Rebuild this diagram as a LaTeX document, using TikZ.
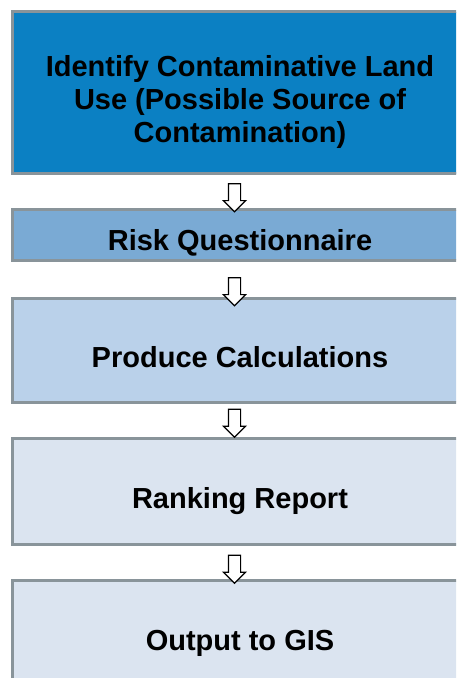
\documentclass[tikz,border=0pt]{standalone}
\usepackage{fontspec}
\setmainfont{Liberation Sans}
\usepackage{xcolor}
\usepackage{tikz}
\usetikzlibrary{shapes.arrows}
\definecolor{edgegray}{RGB}{137,148,154}
\definecolor{landblue}{RGB}{11,128,195}
\definecolor{riskblue}{RGB}{122,170,212}
\definecolor{calcblue}{RGB}{186,209,234}
\definecolor{paleblue}{RGB}{219,228,240}

\begin{document}
\begin{tikzpicture}[x=1pt,y=-1pt,
                    box/.style={draw=edgegray, line width=3pt, minimum width=455pt,
                                inner sep=0pt, outer sep=0pt, align=center,
                                text height=34pt, text depth=0pt,
                                font=\fontsize{29}{33}\selectfont\bfseries},
                    downarrow/.style={single arrow, draw=black, fill=white, line width=1.2pt,
                                      shape border rotate=270, minimum width=21pt,
                                      minimum height=28pt, single arrow head extend=5pt,
                                      inner sep=5.5pt, outer sep=0pt},
                   ]

\useasboundingbox (0,0) rectangle (456,678);
\clip (0,0) rectangle (456,678);

\node[box, fill=landblue, minimum height=162pt, text height=99pt, text depth=0pt] (identify) at (240,92.5)
  {Identify Contaminative Land\\Use (Possible Source of\\Contamination)};
\node[box, fill=riskblue, minimum height=50.6pt, text height=31pt] (risk) at (240,235) {Risk Questionnaire};
\node[box, fill=calcblue, minimum height=104.3pt] (calc) at (240,350.15) {Produce Calculations};
\node[box, fill=paleblue, minimum height=106pt] (rank) at (240,491.7) {Ranking Report};
\node[box, fill=paleblue, minimum height=106pt] (gis) at (240,633.7) {Output to GIS};

\node[downarrow, anchor=tip] (arrA) at ([xshift=-5.5pt,yshift=-2pt]risk.north) {};
\node[downarrow, anchor=tip] (arrB) at ([xshift=-5.5pt,yshift=-7.7pt]calc.north) {};
\node[downarrow, anchor=tip] (arrC) at ([xshift=-5.5pt,yshift=1.4pt]rank.north) {};
\node[downarrow, anchor=tip] (arrD) at ([xshift=-5.5pt,yshift=-2.6pt]gis.north) {};

\end{tikzpicture}
\end{document}
